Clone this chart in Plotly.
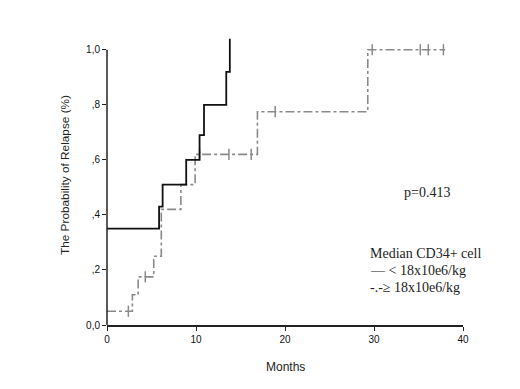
import plotly.graph_objects as go

# Group < 18x10e6/kg (solid black)
low_months = [0, 5.85, 6.25, 8.9, 10.4, 10.9, 13.4, 13.8]
low_prob = [0.35, 0.43, 0.51, 0.60, 0.69, 0.80, 0.92, 1.04]

# Group >= 18x10e6/kg (grey dash-dot)
high_months = [0, 2.85, 3.5, 5.25, 6.1, 8.3, 9.9, 16.9, 29.3, 38.0]
high_prob = [0.05, 0.11, 0.175, 0.25, 0.42, 0.51, 0.62, 0.775, 1.0, 1.0]

# Censored observations on the >= 18 curve
cens_months = [2.4, 4.3, 10.4, 13.7, 16.2, 18.9, 29.8, 35.2, 36.1, 37.8]
cens_prob = [0.05, 0.175, 0.62, 0.62, 0.62, 0.775, 1.0, 1.0, 1.0, 1.0]

x_ticks = [0, 10, 20, 30, 40]
y_ticks = [0.0, 0.2, 0.4, 0.6, 0.8, 1.0]
y_tick_labels = ["0,0", ",2", ",4", ",6", ",8", "1,0"]

fig = go.Figure()
fig.add_trace(go.Scatter(x=high_months, y=high_prob, mode="lines", line_shape="hv",
                         line=dict(color="#8a8a8a", width=1.6, dash="dashdot"),
                         hoverinfo="skip", showlegend=False))
fig.add_trace(go.Scatter(x=cens_months, y=cens_prob, mode="markers",
                         marker=dict(symbol="line-ns", size=8,
                                     line=dict(color="#8a8a8a", width=1.5)),
                         hoverinfo="skip", showlegend=False))
fig.add_trace(go.Scatter(x=low_months, y=low_prob, mode="lines", line_shape="hv",
                         line=dict(color="#111111", width=1.8),
                         hoverinfo="skip", showlegend=False))

tickfont = dict(family="Liberation Sans, Arial, sans-serif", size=10, color="#111")
fig.update_xaxes(range=[0, 40], tickvals=x_ticks, ticktext=[str(v) for v in x_ticks],
                 showline=True, linecolor="#222", linewidth=1.5,
                 ticks="outside", ticklen=4, tickcolor="#222", tickwidth=1,
                 showgrid=False, zeroline=False, tickfont=tickfont, fixedrange=True)
fig.update_yaxes(range=[0, 1.05], tickvals=y_ticks, ticktext=y_tick_labels,
                 showline=False, ticks="outside", ticklen=4, tickcolor="#222", tickwidth=1,
                 showgrid=False, zeroline=False, tickfont=tickfont, fixedrange=True)

# y-axis line only spans 0..1
fig.add_shape(type="line", xref="paper", yref="y", x0=0, x1=0, y0=0, y1=1.0,
              line=dict(color="#222", width=1.5))

serif = dict(family="Liberation Serif, Times New Roman, serif", size=14, color="#222")
sans_y = dict(family="Liberation Sans, Arial, sans-serif", size=11.8, color="#222")
sans_x = dict(family="Liberation Sans, Arial, sans-serif", size=12, color="#222")

fig.add_annotation(text="p=0.413", xref="paper", yref="paper", x=0.829, y=0.457,
                   xanchor="left", yanchor="middle", showarrow=False, font=serif)
legend_lines = ["Median CD34+ cell", "— < 18x10e6/kg", "-.-≥ 18x10e6/kg"]
legend_y = [0.249, 0.187, 0.131]
for t, yy in zip(legend_lines, legend_y):
    fig.add_annotation(text=t, xref="paper", yref="paper", x=0.733, y=yy,
                       xanchor="left", yanchor="middle", showarrow=False, font=serif)

fig.add_annotation(text="The Probability of Relapse (%)", xref="paper", yref="paper",
                   x=-0.118, y=0.519, textangle=-90, xanchor="center", yanchor="middle",
                   showarrow=False, font=sans_y)
fig.add_annotation(text="Months", xref="paper", yref="paper", x=0.5, y=-0.145,
                   xanchor="center", yanchor="middle", showarrow=False, font=sans_x)

# margins compensate for the 8px default page margin
fig.update_layout(width=520, height=389, margin=dict(l=99, r=65, t=28, b=72),
                  plot_bgcolor="white", paper_bgcolor="white")

fig.write_html("out.html")
